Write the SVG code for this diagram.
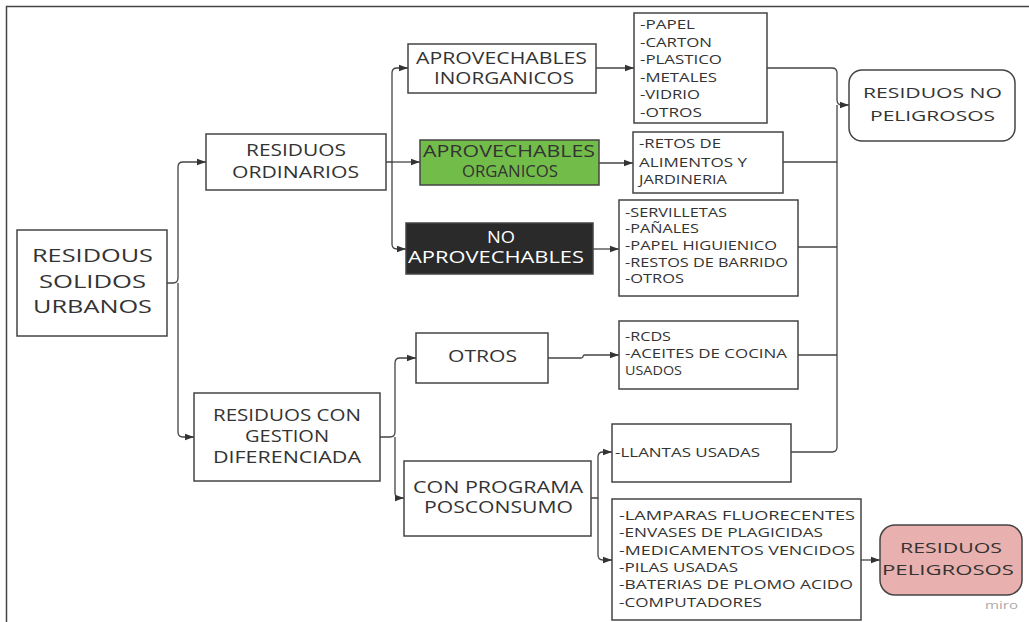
<svg xmlns="http://www.w3.org/2000/svg" width="1029" height="622" viewBox="0 0 1029 622">
<defs>
<style>
.b{fill:#fff;stroke:#444;stroke-width:1.5}
.t{font-family:"Open Sans","DejaVu Sans",sans-serif;fill:#333}
.c{fill:none;stroke:#444;stroke-width:1.3}
.ar{marker-end:url(#a)}
</style>
<marker id="a" markerWidth="10" markerHeight="8" refX="9" refY="4" orient="auto" markerUnits="userSpaceOnUse"><path d="M0,0.8 L9,4 L0,7.2 z" fill="#333"/></marker>
</defs>
<rect width="1029" height="622" fill="#fff"/>
<path d="M6.5,622 V6.5 H1029" fill="none" stroke="#444" stroke-width="1.5"/>

<g id="connectors">
<path class="c ar" d="M167,283 H173 Q178,283 178,278 V167 Q178,162 183,162 H206"/>
<path class="c ar" d="M178,283 V432 Q178,437 183,437 H194"/>
<path class="c ar" d="M386,162 H392 V73 Q392,68 397,68 H408"/>
<path class="c ar" d="M392,162 H420"/>
<path class="c ar" d="M392,162 V244 Q392,249 397,249 H406"/>
<path class="c ar" d="M596,68 H634"/>
<path class="c ar" d="M599,163 H633"/>
<path class="c ar" d="M593,249 H619"/>
<path class="c ar" d="M380,437 H390 Q395,437 395,432 V363 Q395,358 400,358 H416"/>
<path class="c ar" d="M395,437 V493 Q395,498 400,498 H404"/>
<path class="c ar" d="M548,358 H581 Q583,358 583,356.5 Q583,355 585,355 H619"/>
<path class="c ar" d="M591,498 H598 V457 Q598,452 603,452 H612"/>
<path class="c ar" d="M598,498 V555 Q598,560 603,560 H612"/>
<path class="c ar" d="M861,560 H880"/>
<path class="c ar" d="M767,68 H832 Q837,68 837,73 V100 Q837,105 842,105 H849"/>
<path class="c" d="M791,452 H832 Q837,452 837,447 V105"/>
<path class="c" d="M783,162 H837"/>
<path class="c" d="M798,247 H837"/>
<path class="c" d="M798,355 H837"/>
</g>

<g id="rsu">
<rect class="b" x="17" y="230" width="150" height="106"/>
<text class="t" font-size="19" x="32" y="262" textLength="121" lengthAdjust="spacingAndGlyphs">RESIDOUS</text>
<text class="t" font-size="19" x="39" y="288" textLength="107" lengthAdjust="spacingAndGlyphs">SOLIDOS</text>
<text class="t" font-size="19" x="33" y="313" textLength="119" lengthAdjust="spacingAndGlyphs">URBANOS</text>
</g>

<g id="ordinarios">
<rect class="b" x="206" y="134" width="180" height="56"/>
<text class="t" font-size="17" x="246" y="156" textLength="100" lengthAdjust="spacingAndGlyphs">RESIDUOS</text>
<text class="t" font-size="17" x="232" y="178" textLength="127" lengthAdjust="spacingAndGlyphs">ORDINARIOS</text>
</g>

<g id="gestion">
<rect class="b" x="194" y="393" width="186" height="88"/>
<text class="t" font-size="16" x="213" y="421" textLength="148" lengthAdjust="spacingAndGlyphs">RESIDUOS CON</text>
<text class="t" font-size="16" x="245" y="442" textLength="84" lengthAdjust="spacingAndGlyphs">GESTION</text>
<text class="t" font-size="16" x="213" y="463" textLength="148" lengthAdjust="spacingAndGlyphs">DIFERENCIADA</text>
</g>

<g id="inorganicos">
<rect class="b" x="408" y="44" width="188" height="49"/>
<text class="t" font-size="16" x="416" y="64" textLength="171" lengthAdjust="spacingAndGlyphs">APROVECHABLES</text>
<text class="t" font-size="16" x="434" y="84" textLength="140" lengthAdjust="spacingAndGlyphs">INORGANICOS</text>
</g>

<g id="organicos">
<rect x="420" y="140" width="179" height="45" fill="#72bc4a" stroke="#444" stroke-width="1.5"/>
<text class="t" font-size="16" x="423" y="157" textLength="172" lengthAdjust="spacingAndGlyphs">APROVECHABLES</text>
<text class="t" font-size="16" x="462" y="177" textLength="96" lengthAdjust="spacingAndGlyphs">ORGANICOS</text>
</g>

<g id="noaprovechables">
<rect x="406" y="223" width="187" height="51" fill="#2a2a2a" stroke="#444" stroke-width="1.5"/>
<text class="t" font-size="16" x="487" y="243" textLength="28" lengthAdjust="spacingAndGlyphs" style="fill:#fff">NO</text>
<text class="t" font-size="16" x="408" y="263" textLength="176" lengthAdjust="spacingAndGlyphs" style="fill:#fff">APROVECHABLES</text>
</g>

<g id="otros">
<rect class="b" x="416" y="333" width="132" height="50"/>
<text class="t" font-size="16" x="448" y="362" textLength="69" lengthAdjust="spacingAndGlyphs">OTROS</text>
</g>

<g id="posconsumo">
<rect class="b" x="404" y="461" width="187" height="75"/>
<text class="t" font-size="16" x="413" y="493" textLength="170" lengthAdjust="spacingAndGlyphs">CON PROGRAMA</text>
<text class="t" font-size="16" x="424" y="513" textLength="149" lengthAdjust="spacingAndGlyphs">POSCONSUMO</text>
</g>

<g id="lista-inorganicos">
<rect class="b" x="634" y="13" width="133" height="110"/>
<text class="t" font-size="12" x="640" y="29" textLength="55" lengthAdjust="spacingAndGlyphs">-PAPEL</text>
<text class="t" font-size="12" x="640" y="47" textLength="72" lengthAdjust="spacingAndGlyphs">-CARTON</text>
<text class="t" font-size="12" x="640" y="64" textLength="82" lengthAdjust="spacingAndGlyphs">-PLASTICO</text>
<text class="t" font-size="12" x="640" y="82" textLength="77" lengthAdjust="spacingAndGlyphs">-METALES</text>
<text class="t" font-size="12" x="640" y="99" textLength="60" lengthAdjust="spacingAndGlyphs">-VIDRIO</text>
<text class="t" font-size="12" x="640" y="117" textLength="62" lengthAdjust="spacingAndGlyphs">-OTROS</text>
</g>

<g id="lista-organicos">
<rect class="b" x="633" y="132" width="150" height="61"/>
<text class="t" font-size="13" x="639" y="148" textLength="82" lengthAdjust="spacingAndGlyphs">-RETOS DE</text>
<text class="t" font-size="13" x="639" y="167" textLength="108" lengthAdjust="spacingAndGlyphs">ALIMENTOS Y</text>
<text class="t" font-size="13" x="639" y="184" textLength="88" lengthAdjust="spacingAndGlyphs">JARDINERIA</text>
</g>

<g id="lista-noaprovechables">
<rect class="b" x="619" y="200" width="179" height="96"/>
<text class="t" font-size="12" x="625" y="217" textLength="102" lengthAdjust="spacingAndGlyphs">-SERVILLETAS</text>
<text class="t" font-size="12" x="625" y="233" textLength="74" lengthAdjust="spacingAndGlyphs">-PAÑALES</text>
<text class="t" font-size="12" x="625" y="250" textLength="152" lengthAdjust="spacingAndGlyphs">-PAPEL HIGUIENICO</text>
<text class="t" font-size="12" x="625" y="267" textLength="163" lengthAdjust="spacingAndGlyphs">-RESTOS DE BARRIDO</text>
<text class="t" font-size="12" x="625" y="283" textLength="59" lengthAdjust="spacingAndGlyphs">-OTROS</text>
</g>

<g id="lista-otros">
<rect class="b" x="619" y="321" width="179" height="68"/>
<text class="t" font-size="12.5" x="625" y="341" textLength="46" lengthAdjust="spacingAndGlyphs">-RCDS</text>
<text class="t" font-size="12.5" x="625" y="358" textLength="162" lengthAdjust="spacingAndGlyphs">-ACEITES DE COCINA</text>
<text class="t" font-size="12.5" x="625" y="375" textLength="57" lengthAdjust="spacingAndGlyphs">USADOS</text>
</g>

<g id="llantas">
<rect class="b" x="612" y="424" width="179" height="58"/>
<text class="t" font-size="13" x="615" y="457" textLength="145" lengthAdjust="spacingAndGlyphs">-LLANTAS USADAS</text>
</g>

<g id="lista-peligrosos">
<rect class="b" x="612" y="499" width="249" height="121"/>
<text class="t" font-size="12.5" x="619" y="520" textLength="236" lengthAdjust="spacingAndGlyphs">-LAMPARAS FLUORECENTES</text>
<text class="t" font-size="12.5" x="619" y="537" textLength="204" lengthAdjust="spacingAndGlyphs">-ENVASES DE PLAGICIDAS</text>
<text class="t" font-size="12.5" x="619" y="555" textLength="236" lengthAdjust="spacingAndGlyphs">-MEDICAMENTOS VENCIDOS</text>
<text class="t" font-size="12.5" x="619" y="572" textLength="119" lengthAdjust="spacingAndGlyphs">-PILAS USADAS</text>
<text class="t" font-size="12.5" x="619" y="589" textLength="234" lengthAdjust="spacingAndGlyphs">-BATERIAS DE PLOMO ACIDO</text>
<text class="t" font-size="12.5" x="619" y="607" textLength="143" lengthAdjust="spacingAndGlyphs">-COMPUTADORES</text>
</g>

<g id="no-peligrosos">
<rect class="b" x="849" y="70" width="166" height="71" rx="13"/>
<text class="t" font-size="15" x="863" y="98" textLength="139" lengthAdjust="spacingAndGlyphs">RESIDUOS NO</text>
<text class="t" font-size="15" x="870" y="121" textLength="125" lengthAdjust="spacingAndGlyphs">PELIGROSOS</text>
</g>

<g id="peligrosos">
<rect x="880" y="525" width="142" height="70" rx="15" fill="#e8b0ae" stroke="#444" stroke-width="1.5"/>
<text class="t" font-size="15" x="900" y="553" textLength="102" lengthAdjust="spacingAndGlyphs">RESIDUOS</text>
<text class="t" font-size="15" x="882" y="575" textLength="132" lengthAdjust="spacingAndGlyphs">PELIGROSOS</text>
</g>

<text class="t" font-size="11" x="985" y="609" textLength="33" lengthAdjust="spacingAndGlyphs" style="fill:#aaa">miro</text>
</svg>
